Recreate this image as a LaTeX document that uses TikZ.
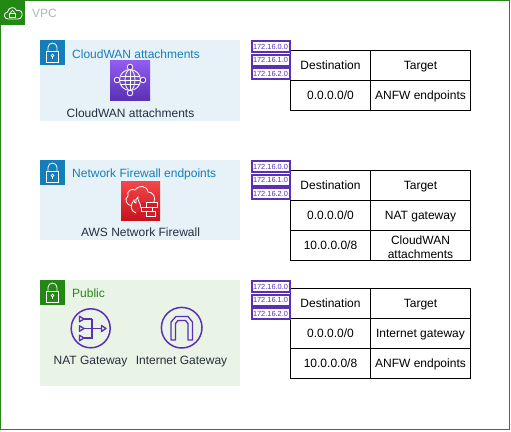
\documentclass[tikz,border=0pt]{standalone}
\usepackage{fontspec}
\setmainfont{Liberation Sans}
\definecolor{vgreen}{HTML}{248814}
\definecolor{vblue}{HTML}{147EBA}
\definecolor{lblue}{HTML}{E6F2F8}
\definecolor{lgreen}{HTML}{E9F3E6}
\definecolor{vpur}{HTML}{5A30B5}
\definecolor{vpurtop}{HTML}{945DF2}
\definecolor{vredtop}{HTML}{F54749}
\definecolor{vredbot}{HTML}{C7131F}
\definecolor{vgrey}{HTML}{AAB7B8}
\definecolor{vdark}{HTML}{232F3E}
\newcommand{\cs}{\rule[-2pt]{0pt}{11.5pt}}
\tikzset{
  x=1pt,y=-1pt,
  subnet/.style={fill=#1,draw=none,inner sep=0pt,outer sep=0pt,anchor=north west},
  sublabel/.style={anchor=west,inner sep=0pt,font=\fontsize{12}{14}\selectfont,text=#1},
  iconlabel/.style={anchor=center,inner sep=0pt,font=\fontsize{12}{14}\selectfont,text=vdark},
  cell/.style={draw=black,line width=1pt,minimum width=#1,minimum height=30pt,inner sep=0pt,outer sep=0pt,anchor=north west,align=center,font=\fontsize{12}{14}\selectfont,text=black},
  ipbox/.style={draw=vpur,line width=2pt,fill=white,minimum width=38pt,minimum height=11pt,inner sep=0pt,outer sep=0pt,anchor=north west,font=\fontsize{7.4}{8}\selectfont,text=vpur},
  ico/.style={draw=white,line width=0.8pt,fill=none},
  pico/.style={draw=vpur,line width=1.5pt,fill=none},
  pthin/.style={draw=vpur,line width=1.3pt,line join=round},
}
\newcommand{\lockicon}[3]{%
  \fill[#3] (#1,#2) rectangle ++(25,25);
  \draw[white,line width=0.8pt] (#1+6.5,#2+11.5) rectangle (#1+18.5,#2+22);
  \draw[white,line width=0.8pt] (#1+8,#2+11.5) -- (#1+8,#2+7.5) arc[start angle=180,end angle=0,radius=4.5pt] -- (#1+17,#2+11.5);
  \draw[white,line width=0.7pt] (#1+12.5,#2+15.5) circle[radius=1.3pt];
  \draw[white,line width=0.7pt] (#1+12.5,#2+16.8) -- (#1+12.5,#2+19);
}
\newcommand{\iproutes}[2]{%
  \node[ipbox] (#1a) at (251.5,#2) {172.16.0.0};
  \node[ipbox] (#1b) at (251.5,#2+13.5) {172.16.1.0};
  \node[ipbox] (#1c) at (251.5,#2+27) {172.16.2.0};
}
\newcommand{\rowcells}[4]{%
  \node[cell=80pt] (#1d) at (290.5,#2) {\cs#3};
  \node[cell=100pt] (#1t) at (370.5,#2) {\cs#4};
}
\begin{document}
\begin{tikzpicture}
\useasboundingbox (0,0) rectangle (511,431);
% VPC
\node[draw=vgreen,line width=1pt,minimum width=509pt,minimum height=429pt,inner sep=0pt,outer sep=0pt,anchor=north west] (vpc) at (0.5,0.5) {};
\fill[vgreen] (0,0) rectangle (25,25);
\draw[white,line width=0.8pt] (8,19) .. controls (3.5,19) and (3,12.5) .. (7.5,12) .. controls (8,7) and (15,6) .. (16.5,10.5) .. controls (20,9.5) and (23,12) .. (22,15.5) .. controls (21.5,18) and (20,19) .. (18,19) -- cycle;
\draw[white,line width=0.7pt] (9.5,13.5) rectangle (15.5,17.5);
\draw[white,line width=0.7pt] (10.8,13.5) -- (10.8,12) arc[start angle=180,end angle=0,radius=1.7pt] -- (14.2,13.5);
\node[anchor=west,inner sep=0pt,font=\fontsize{12}{14}\selectfont,text=vgrey] (vpclabel) at (32,13.5) {VPC};
% Subnet 1
\node[subnet=lblue,minimum width=200pt,minimum height=81pt] (s1) at (40,40) {};
\lockicon{40}{40}{vblue}
\node[sublabel=vblue] (s1l) at (72,54) {CloudWAN attachments};
\shade[top color=vpurtop,bottom color=vpur] (110,60) rectangle (150,100);
\draw[ico] (130,80) circle[radius=10.5pt];
\draw[ico] (130,80) ellipse[x radius=5pt,y radius=10.5pt];
\draw[ico] (130,69.5) -- (130,90.5);
\draw[ico] (120.5,76) -- (139.5,76) (119.5,80) -- (140.5,80) (120.5,84) -- (139.5,84);
\foreach \cx/\cy in {130/67,143/80,130/93,117/80}{
  \draw[white,line width=0.8pt,fill=vpur!85!vpurtop] (\cx,\cy) circle[radius=2.8pt];
}
\node[iconlabel] (s1i) at (130.5,113.5) {CloudWAN attachments};
% Subnet 2
\node[subnet=lblue,minimum width=200pt,minimum height=80pt] (s2) at (40,160) {};
\lockicon{40}{160}{vblue}
\node[sublabel=vblue] (s2l) at (72,174) {Network Firewall endpoints};
\shade[top color=vredtop,bottom color=vredbot] (121,181) rectangle (160,220);
\draw[ico] (132,206) .. controls (126,205) and (124,199) .. (128,196) .. controls (126,191) and (132,188) .. (135,190) .. controls (138,185) and (147,185) .. (148,192) .. controls (153,192) and (156,197) .. (154,202);
\draw[ico,fill=vredbot!60!vredtop] (136,213) .. controls (130,211) and (130,205) .. (134,200) .. controls (134,202) and (135,203) .. (136,203) .. controls (135,201) and (136,198) .. (138,197) .. controls (137,201) and (141,203) .. (141,208);
\fill[vredbot!80!vredtop] (140.5,202.5) rectangle (157.5,216.5);
\draw[ico] (146,202.5) rectangle (157,207) (141,207) rectangle (152,211.5) (146,211.5) rectangle (155,216);
\node[iconlabel] (s2i) at (140.5,232.5) {AWS Network Firewall};
% Subnet 3
\node[subnet=lgreen,minimum width=200pt,minimum height=106pt] (s3) at (40,280) {};
\lockicon{40}{280}{vgreen}
\node[sublabel=vgreen] (s3l) at (72,293.5) {Public};
\draw[pico] (90.7,328.3) circle[radius=19.5pt];
\foreach \ty in {319,328.5,338}{
  \draw[pthin] (79.5,\ty-2.7) -- (84,\ty) -- (79.5,\ty+2.7) -- cycle;
  \draw[pthin] (84,\ty) -- (92,\ty);
}
\draw[pthin] (92,318.5) -- (92,338.5);
\draw[pthin] (92,328.5) -- (101.5,328.5);
\draw[pthin] (101.5,325.5) -- (106,328.5) -- (101.5,331.5) -- cycle;
\draw[pico] (181.7,327.7) circle[radius=20.3pt];
\draw[pthin] (171,340) -- (171,322) -- (176,316.5) -- (188,316.5) -- (192.5,322) -- (192.5,340) -- (188,340) -- (188,323.5) -- (185.5,320.5) -- (178,320.5) -- (175.5,323.5) -- (175.5,340) -- cycle;
\node[iconlabel] (natl) at (90.5,361.5) {NAT Gateway};
\node[iconlabel] (igwl) at (181.5,361.5) {Internet Gateway};
% Tables
\rowcells{ta}{50.5}{Destination}{Target}
\rowcells{tb}{80.5}{0.0.0.0/0}{ANFW endpoints}
\rowcells{tc}{170.5}{Destination}{Target}
\rowcells{td}{200.5}{0.0.0.0/0}{NAT gateway}
\node[cell=80pt] (ted) at (290.5,230.5) {\cs 10.0.0.0/8};
\node[cell=100pt] (tet) at (370.5,230.5) {\rule[-2pt]{0pt}{14.5pt}CloudWAN\\\rule[-1.5pt]{0pt}{10pt}attachments};
\rowcells{tf}{288.5}{Destination}{Target}
\rowcells{tg}{318.5}{0.0.0.0/0}{Internet gateway}
\rowcells{th}{348.5}{10.0.0.0/8}{ANFW endpoints}
% IP boxes
\iproutes{ia}{41}
\iproutes{ib}{161}
\iproutes{ic}{281}
\end{tikzpicture}
\end{document}
